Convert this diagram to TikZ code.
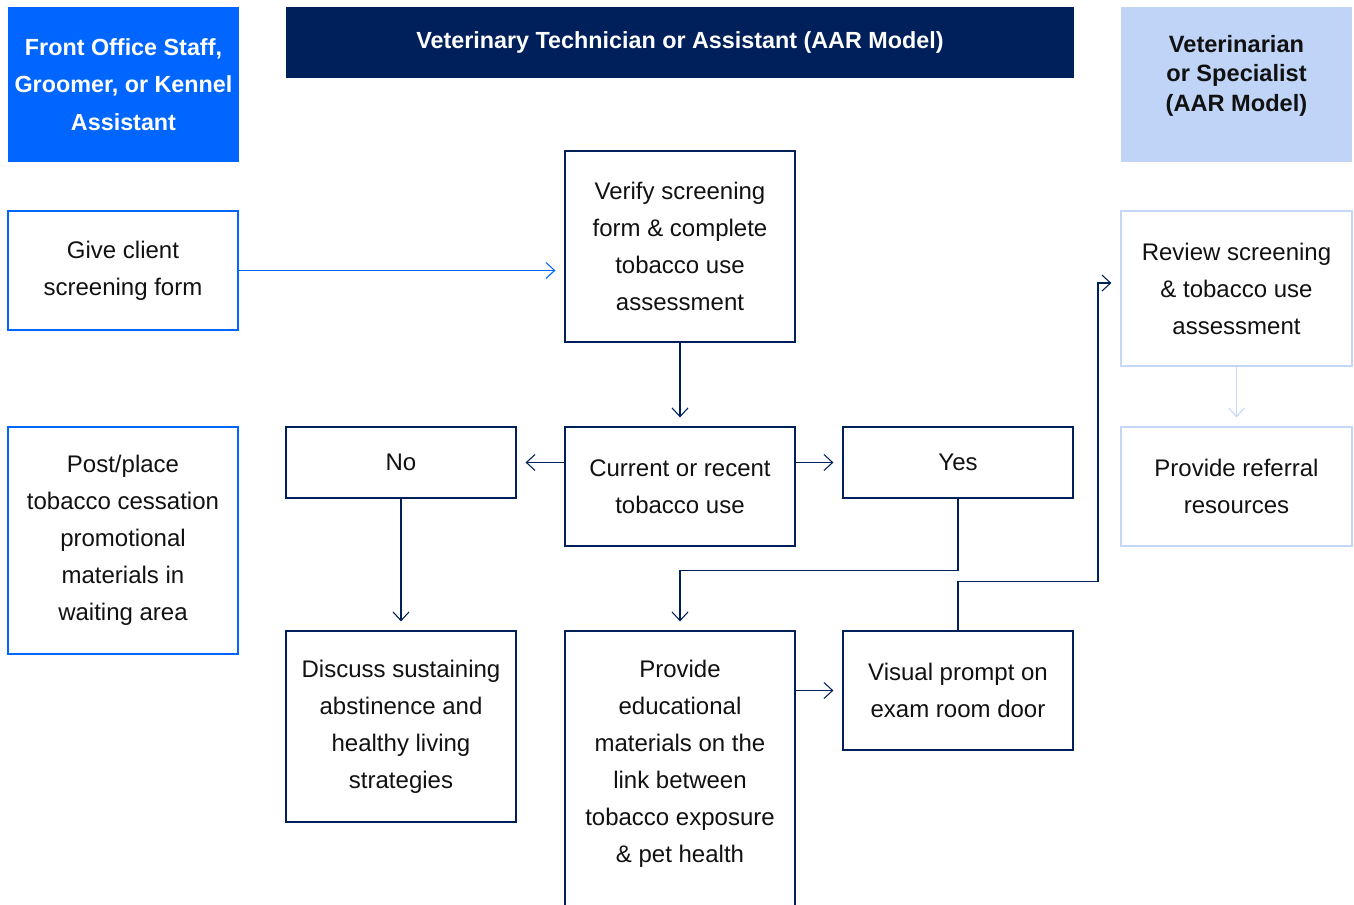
\documentclass[tikz,border=0pt]{standalone}
\usepackage{fontspec}
\setmainfont{Liberation Sans}
\usetikzlibrary{arrows.meta}
\definecolor{brightblue}{HTML}{0066FF}
\definecolor{navy}{HTML}{00205B}
\definecolor{paleblue}{HTML}{BFD4F7}
\definecolor{paleline}{HTML}{C4D7F7}
\definecolor{ink}{HTML}{111111}
\begin{document}
\begin{tikzpicture}[x=0.75pt,y=-0.75pt,
 body/.style={align=center,font=\fontsize{18}{27.75}\selectfont,text=ink,inner sep=0pt,line width=0.9pt},
 frontbox/.style={body,draw=brightblue},
 techbox/.style={body,draw=navy},
 vetbox/.style={body,draw=paleline},
 hdr/.style={align=center,font=\fontsize{17.5}{28}\selectfont\bfseries,inner sep=0pt},
 arr/.style={-{Straight Barb[length=6.5pt,width=12pt]},line width=0.8pt,shorten >=6.75pt},
 ]
\clip (0,0) rectangle (1354,905);
% headers
\node[hdr,fill=brightblue,text=white,minimum width=173.25pt,minimum height=116.25pt] (h1) at (123.5,84.5)
  {Front Office Staff,\\Groomer, or Kennel\\Assistant};
\node[hdr,fill=navy,text=white,minimum width=591pt,minimum height=53.25pt] (h2) at (680,42.5)
  {Veterinary Technician or Assistant (AAR Model)};
\node[hdr,fill=paleblue,text=ink,minimum width=173.25pt,minimum height=116.25pt,
  font=\fontsize{17.7}{22}\selectfont\bfseries] (h3) at (1236.5,84.5)
  {Veterinarian\\or Specialist\\(AAR Model)\rule[-17pt]{0pt}{0pt}};
% front office column
\node[frontbox,minimum width=172.5pt,minimum height=89.25pt] (give) at (123,270.5)
  {Give client\\screening form};
\node[frontbox,minimum width=172.5pt,minimum height=170.25pt] (post) at (123,540.5)
  {Post/place\\tobacco cessation\\promotional\\materials in\\waiting area};
% technician columns
\node[techbox,minimum width=172.5pt,minimum height=143.25pt] (verify) at (680,246.5)
  {Verify screening\\form \& complete\\tobacco use\\assessment};
\node[techbox,minimum width=172.5pt,minimum height=53.25pt] (no) at (401,462.5) {No};
\node[techbox,minimum width=172.5pt,minimum height=89.25pt] (current) at (680,486.5)
  {Current or recent\\tobacco use};
\node[techbox,minimum width=172.5pt,minimum height=53.25pt] (yes) at (958,462.5) {Yes};
\node[techbox,minimum width=172.5pt,minimum height=143.25pt] (discuss) at (401,726.5)
  {Discuss sustaining\\abstinence and\\healthy living\\strategies};
\node[techbox,minimum width=172.5pt,minimum height=217.5pt] (educ) at (680,776)
  {Provide\\educational\\materials on the\\link between\\tobacco exposure\\\& pet health\rule[-22pt]{0pt}{0pt}};
\node[techbox,minimum width=172.5pt,minimum height=89.25pt] (visual) at (958,690.5)
  {Visual prompt on\\exam room door};
% veterinarian column
\node[vetbox,minimum width=173.25pt,minimum height=116.25pt] (review) at (1236.5,288.5)
  {Review screening\\\& tobacco use\\assessment};
\node[vetbox,minimum width=173.25pt,minimum height=89.25pt] (referral) at (1236.5,486.5)
  {Provide referral\\resources};
% connectors
\draw[arr,brightblue] (give.east) -- (give.east -| verify.west);
\draw[arr,navy] (verify.south) -- (current.north);
\draw[arr,navy] (current.west |- no.east) -- (no.east);
\draw[arr,navy] (current.east |- yes.west) -- (yes.west);
\draw[arr,navy] (no.south) -- (discuss.north);
\draw[arr,navy] (yes.south) -- ++(0,72) -| (educ.north);
\draw[arr,navy] (educ.east |- visual.west) -- (visual.west);
\draw[arr,navy] (visual.north) -- ++(0,-49) -- ++(140,0) |- ([yshift=4.1pt]review.west);
\draw[arr,paleline] (review.south) -- (referral.north);
\end{tikzpicture}
\end{document}
